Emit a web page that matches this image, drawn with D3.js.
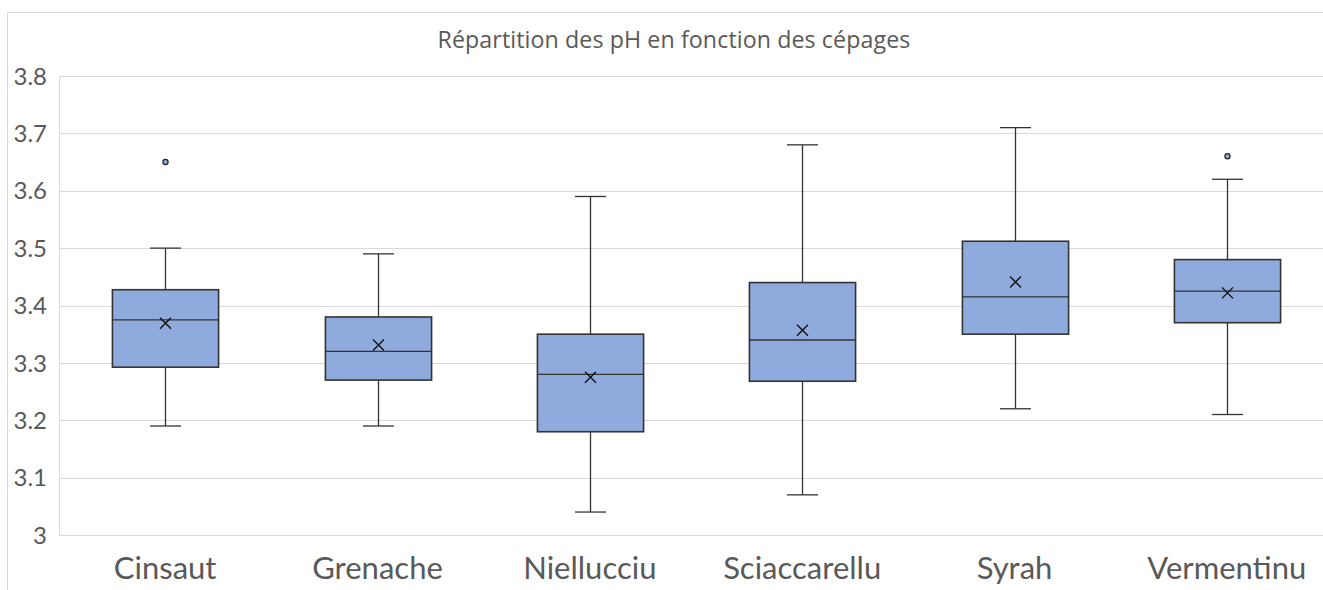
<!DOCTYPE html>
<html><head><meta charset="utf-8">
<script src="https://cdn.jsdelivr.net/npm/d3@7"></script>
<style>html,body{margin:0;padding:0;background:#fff;overflow:hidden}svg{display:block}</style>
</head><body>
<svg id="c" width="1323" height="590"></svg>
<script>
const categories = ["Cinsaut","Grenache","Niellucciu","Sciaccarellu","Syrah","Vermentinu"];
const whiskerLow = [3.19, 3.19, 3.04, 3.07, 3.22, 3.21];
const q1 =        [3.2925, 3.27, 3.18, 3.268, 3.35, 3.37];
const median =    [3.375, 3.32, 3.28, 3.34, 3.415, 3.425];
const q3 =        [3.4275, 3.38, 3.35, 3.44, 3.512, 3.48];
const whiskerHigh=[3.50, 3.49, 3.59, 3.68, 3.71, 3.62];
const mean =      [3.369, 3.331, 3.275, 3.357, 3.441, 3.422];
const outliers =  [[3.65], [], [], [], [], [3.66]];
const yTicks = [3, 3.1, 3.2, 3.3, 3.4, 3.5, 3.6, 3.7, 3.8];
const yTickLabels = ["3","3.1","3.2","3.3","3.4","3.5","3.6","3.7","3.8"];
const title = "Répartition des pH en fonction des cépages";

const svg = d3.select("#c");
const font = "Lato, 'Open Sans', sans-serif";
const textColor = "#595959";
const stroke = "#333";
const fill = "#8faadc";

// chart border
svg.append("rect").attr("x",7.5).attr("y",12.5).attr("width",1400).attr("height",700)
  .attr("fill","#fff").attr("stroke","#d9d9d9").attr("stroke-width",1);

const x = d3.scaleBand().domain(categories).range([59, 1333]).padding(0);
const y = d3.scaleLinear().domain([3, 3.8]).range([535, 76]);

// gridlines
svg.append("g").selectAll("line").data(yTicks).join("line")
  .attr("x1",59).attr("x2",1333)
  .attr("y1",d=>Math.round(y(d))+0.5).attr("y2",d=>Math.round(y(d))+0.5)
  .attr("stroke","#d9d9d9").attr("stroke-width",1);
// left axis line
svg.append("line").attr("x1",59.5).attr("x2",59.5).attr("y1",76).attr("y2",535.5)
  .attr("stroke","#d9d9d9");

// y tick labels
svg.append("g").selectAll("text").data(yTicks).join("text")
  .attr("x",47).attr("y",d=>y(d)).attr("dy","0.36em")
  .attr("text-anchor","end").attr("font-family",font).attr("font-size",24)
  .attr("fill",textColor).text((d,i)=>yTickLabels[i]);

// x labels
svg.append("g").selectAll("text").data(categories).join("text")
  .attr("x",d=>x(d)+x.bandwidth()/2).attr("y",579)
  .attr("text-anchor","middle").attr("font-family",font).attr("font-size",31)
  .attr("fill",textColor).text(d=>d);

// title
svg.append("text").attr("x",674).attr("y",48).attr("text-anchor","middle")
  .attr("font-family","'Open Sans', sans-serif").attr("font-size",23.2)
  .attr("letter-spacing",0.1).attr("fill",textColor).text(title);

const bw = x.bandwidth();
const boxW = bw*0.5;
const capW = 31;
const g = svg.append("g");
categories.forEach((c,i)=>{
  const cx = Math.round(x(c)+bw/2)+0.5;
  const gi = g.append("g");
  gi.append("line").attr("x1",cx).attr("x2",cx).attr("y1",y(whiskerHigh[i])).attr("y2",y(q3[i]))
    .attr("stroke",stroke).attr("stroke-width",1.3);
  gi.append("line").attr("x1",cx).attr("x2",cx).attr("y1",y(q1[i])).attr("y2",y(whiskerLow[i]))
    .attr("stroke",stroke).attr("stroke-width",1.3);
  [whiskerHigh[i], whiskerLow[i]].forEach(v=>{
    gi.append("line").attr("x1",cx-capW/2).attr("x2",cx+capW/2).attr("y1",y(v)).attr("y2",y(v))
      .attr("stroke",stroke).attr("stroke-width",1.3);
  });
  gi.append("rect").attr("x",cx-boxW/2).attr("width",boxW)
    .attr("y",y(q3[i])).attr("height",y(q1[i])-y(q3[i]))
    .attr("fill",fill).attr("stroke",stroke).attr("stroke-width",1.6);
  gi.append("line").attr("x1",cx-boxW/2).attr("x2",cx+boxW/2).attr("y1",y(median[i])).attr("y2",y(median[i]))
    .attr("stroke",stroke).attr("stroke-width",1.4);
  const my = y(mean[i]), s = 5.5;
  gi.append("path").attr("d",`M${cx-s},${my-s}L${cx+s},${my+s}M${cx-s},${my+s}L${cx+s},${my-s}`)
    .attr("stroke","#111").attr("stroke-width",1.4).attr("fill","none");
  gi.selectAll("circle").data(outliers[i]).join("circle")
    .attr("cx",cx).attr("cy",d=>y(d)).attr("r",2.6)
    .attr("fill",fill).attr("stroke","#222").attr("stroke-width",1.2);
});
</script>
</body></html>
